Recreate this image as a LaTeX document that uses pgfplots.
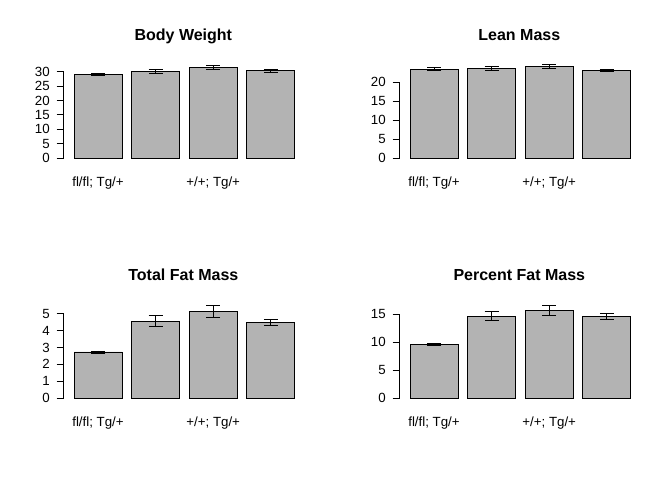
\documentclass[border=0pt]{standalone}
\usepackage{fontspec}
\setmainfont{Liberation Sans}[Ligatures=NoCommon]
\usepackage{pgfplots}
\pgfplotsset{compat=1.18}
\definecolor{barfill}{RGB}{179,179,179}
\pgfplotsset{panel/.style={
  scale only axis, width=240.7pt, xmin=-0.015, xmax=5.0, ymin=0, clip=false,
  enlargelimits=false,
  axis y line*=left, axis x line*=bottom, x axis line style={draw=none},
  xtick={0.7,3.1}, xticklabels={fl/fl; Tg/+, +/+; Tg/+},
  xtick style={draw=none},
  ytick style={black, line width=0.9pt}, major tick length=7pt, tick align=outside,
  y axis line style={black, line width=0.9pt},
  tick label style={font=\fontsize{13.3}{16}\selectfont},
  /pgf/number format/assume math mode=true,
  yticklabel style={xshift=-3.5pt},
  xticklabel style={anchor=base, yshift=-21.7pt},
  title style={font=\fontsize{16}{19}\selectfont\bfseries, anchor=base, at={(axis description cs:0.497,1)}},
},
barstyle/.style={ybar, bar width=1, bar shift=0, fill=barfill, draw=black, line width=0.9pt,
  error bars/.cd, y dir=both, y explicit, error mark=|,
  error bar style={line width=0.9pt, black},
  error mark options={black, line width=0.9pt, mark size=7pt}}
}
\begin{document}
\begin{tikzpicture}
\path[use as bounding box] (0,0) rectangle (672pt,480pt);
\begin{axis}[panel, at={(63.7pt,322pt)}, anchor=south west, height=86.3pt, ymax=30, ytick={0,5,...,30},
  title={Body Weight}, title style={yshift=25.4pt}]
\addplot[barstyle] coordinates {(0.7,29.1) +- (0,0.4) (1.9,30.0) +- (0,0.7) (3.1,31.5) +- (0,0.7) (4.3,30.4) +- (0,0.5)};
\end{axis}
\begin{axis}[panel, at={(399.7pt,322pt)}, anchor=south west, height=75.7pt, ymax=20, ytick={0,5,...,20},
  title={Lean Mass}, title style={yshift=36pt}]
\addplot[barstyle] coordinates {(0.7,23.5) +- (0,0.35) (1.9,23.6) +- (0,0.5) (3.1,24.1) +- (0,0.5) (4.3,23.2) +- (0,0.3)};
\end{axis}
\begin{axis}[panel, at={(63.7pt,82pt)}, anchor=south west, height=84.3pt, ymax=5, ytick={0,1,...,5},
  title={Total Fat Mass}, title style={yshift=27.4pt}]
\addplot[barstyle] coordinates {(0.7,2.73) +- (0,0.06) (1.9,4.56) +- (0,0.32) (3.1,5.12) +- (0,0.36) (4.3,4.49) +- (0,0.18)};
\end{axis}
\begin{axis}[panel, at={(399.7pt,82pt)}, anchor=south west, height=84pt, ymax=15, ytick={0,5,10,15},
  title={Percent Fat Mass}, title style={yshift=27.7pt}]
\addplot[barstyle] coordinates {(0.7,9.52) +- (0,0.2) (1.9,14.6) +- (0,0.8) (3.1,15.66) +- (0,0.86) (4.3,14.6) +- (0,0.5)};
\end{axis}
\end{tikzpicture}
\end{document}
